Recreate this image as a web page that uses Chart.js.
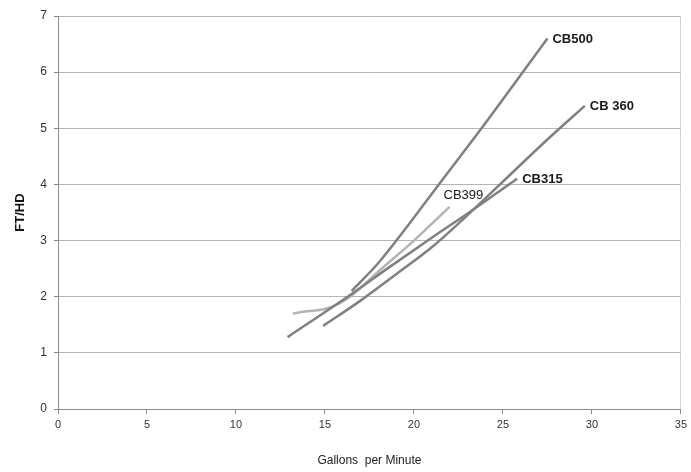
<!DOCTYPE html>
<html>
<head>
<meta charset="utf-8">
<script src="https://cdn.jsdelivr.net/npm/chart.js@4"></script>
<style>
  html,body{margin:0;padding:0;background:#fff;}
  #wrap{width:691px;height:472px;position:relative;}
</style>
</head>
<body>
<div id="wrap"><canvas id="pump"></canvas></div>
<script>
// pump curves (gpm vs ft/hd)
const seriesNames = ["CB500", "CB 360", "CB315", "CB399"];
const cb500X = [16.5, 18, 19.5, 21.4, 23.8, 27.5];
const cb500Y = [2.1, 2.6, 3.2, 4.0, 5.0, 6.6];
const cb360X = [14.9, 17, 19, 21, 23, 25, 27.5, 29.6];
const cb360Y = [1.48, 1.93, 2.4, 2.88, 3.45, 4.05, 4.8, 5.4];
const cb315X = [12.9, 16.5, 18.5, 21, 23.1, 25.8];
const cb315Y = [1.28, 2.05, 2.5, 3.05, 3.5, 4.1];
const cb399X = [13.2, 14, 15, 15.8, 16.5, 18, 20, 22];
const cb399Y = [1.7, 1.74, 1.78, 1.88, 2.02, 2.45, 3.0, 3.6];
const xTicks = [0, 5, 10, 15, 20, 25, 30, 35];
const yTicks = [0, 1, 2, 3, 4, 5, 6, 7];

const pts = (xs, ys) => xs.map((x, i) => ({x: x, y: ys[i]}));
const lineColors = ["#808080", "#808080", "#808080", "#b4b4b4"];
const allData = [pts(cb500X, cb500Y), pts(cb360X, cb360Y), pts(cb315X, cb315Y), pts(cb399X, cb399Y)];

// label offsets next to the line ends
const labelShift = [[5, 1], [5, 1], [5, 1], [-6, -11]];
const labelWeight = ["bold", "bold", "bold", "normal"];

const endLabels = {
  id: "endLabels",
  afterDatasetsDraw(chart){
    const c = chart.ctx;
    const xs = chart.scales.x, ys = chart.scales.y;
    c.save();
    c.fillStyle = "#1a1a1a";
    c.textBaseline = "middle";
    allData.forEach((d, i) => {
      const last = d[d.length - 1];
      const px = xs.getPixelForValue(last.x) + labelShift[i][0];
      const py = ys.getPixelForValue(last.y) + labelShift[i][1];
      c.font = labelWeight[i] + " 13px 'Liberation Sans', Arial, sans-serif";
      c.fillText(seriesNames[i], px, py);
    });
    c.restore();
  }
};

new Chart(document.getElementById("pump"), {
  type: "scatter",
  data: {
    datasets: allData.map((d, i) => ({
      label: seriesNames[i],
      data: d,
      showLine: true,
      borderColor: lineColors[i],
      borderWidth: 2.5,
      pointRadius: 0,
      cubicInterpolationMode: "monotone",
      fill: false
    }))
  },
  options: {
    responsive: true,
    maintainAspectRatio: false,
    animation: false,
    layout: {padding: {top: 16, right: 9, bottom: 0, left: 0}},
    plugins: {legend: {display: false}, tooltip: {enabled: false}},
    scales: {
      x: {
        type: "linear", min: 0, max: 35,
        afterBuildTicks: s => { s.ticks = xTicks.map(v => ({value: v})); },
        afterFit: s => { s.height = 63; },
        ticks: {color: "#333", font: {family: "'Liberation Sans', Arial", size: 11}, padding: 4, maxRotation: 0},
        grid: {
          color: ctx => (ctx.tick && ctx.tick.value === 35) ? "#d4d4d4" : "rgba(0,0,0,0)",
          tickColor: "#8c8c8c", tickLength: 5, drawOnChartArea: true
        },
        border: {color: "#8c8c8c"},
        title: {display: true, text: "Gallons  per Minute", color: "#222",
          font: {family: "'Liberation Sans', Arial", size: 12}, padding: {top: 4, bottom: 4}}
      },
      y: {
        type: "linear", min: 0, max: 7,
        afterBuildTicks: s => { s.ticks = yTicks.map(v => ({value: v})); },
        afterFit: s => { s.width = 58; },
        ticks: {color: "#333", font: {family: "'Liberation Sans', Arial", size: 12}, padding: 7},
        grid: {color: "#b4b4b4", tickColor: "#8c8c8c", tickLength: 4},
        border: {color: "#8c8c8c"},
        title: {display: true, text: "FT/HD", color: "#111",
          font: {family: "'Liberation Sans', Arial", size: 13, weight: "bold"}, padding: {top: 13, bottom: 4}}
      }
    }
  },
  plugins: [endLabels]
});
</script>
</body>
</html>
